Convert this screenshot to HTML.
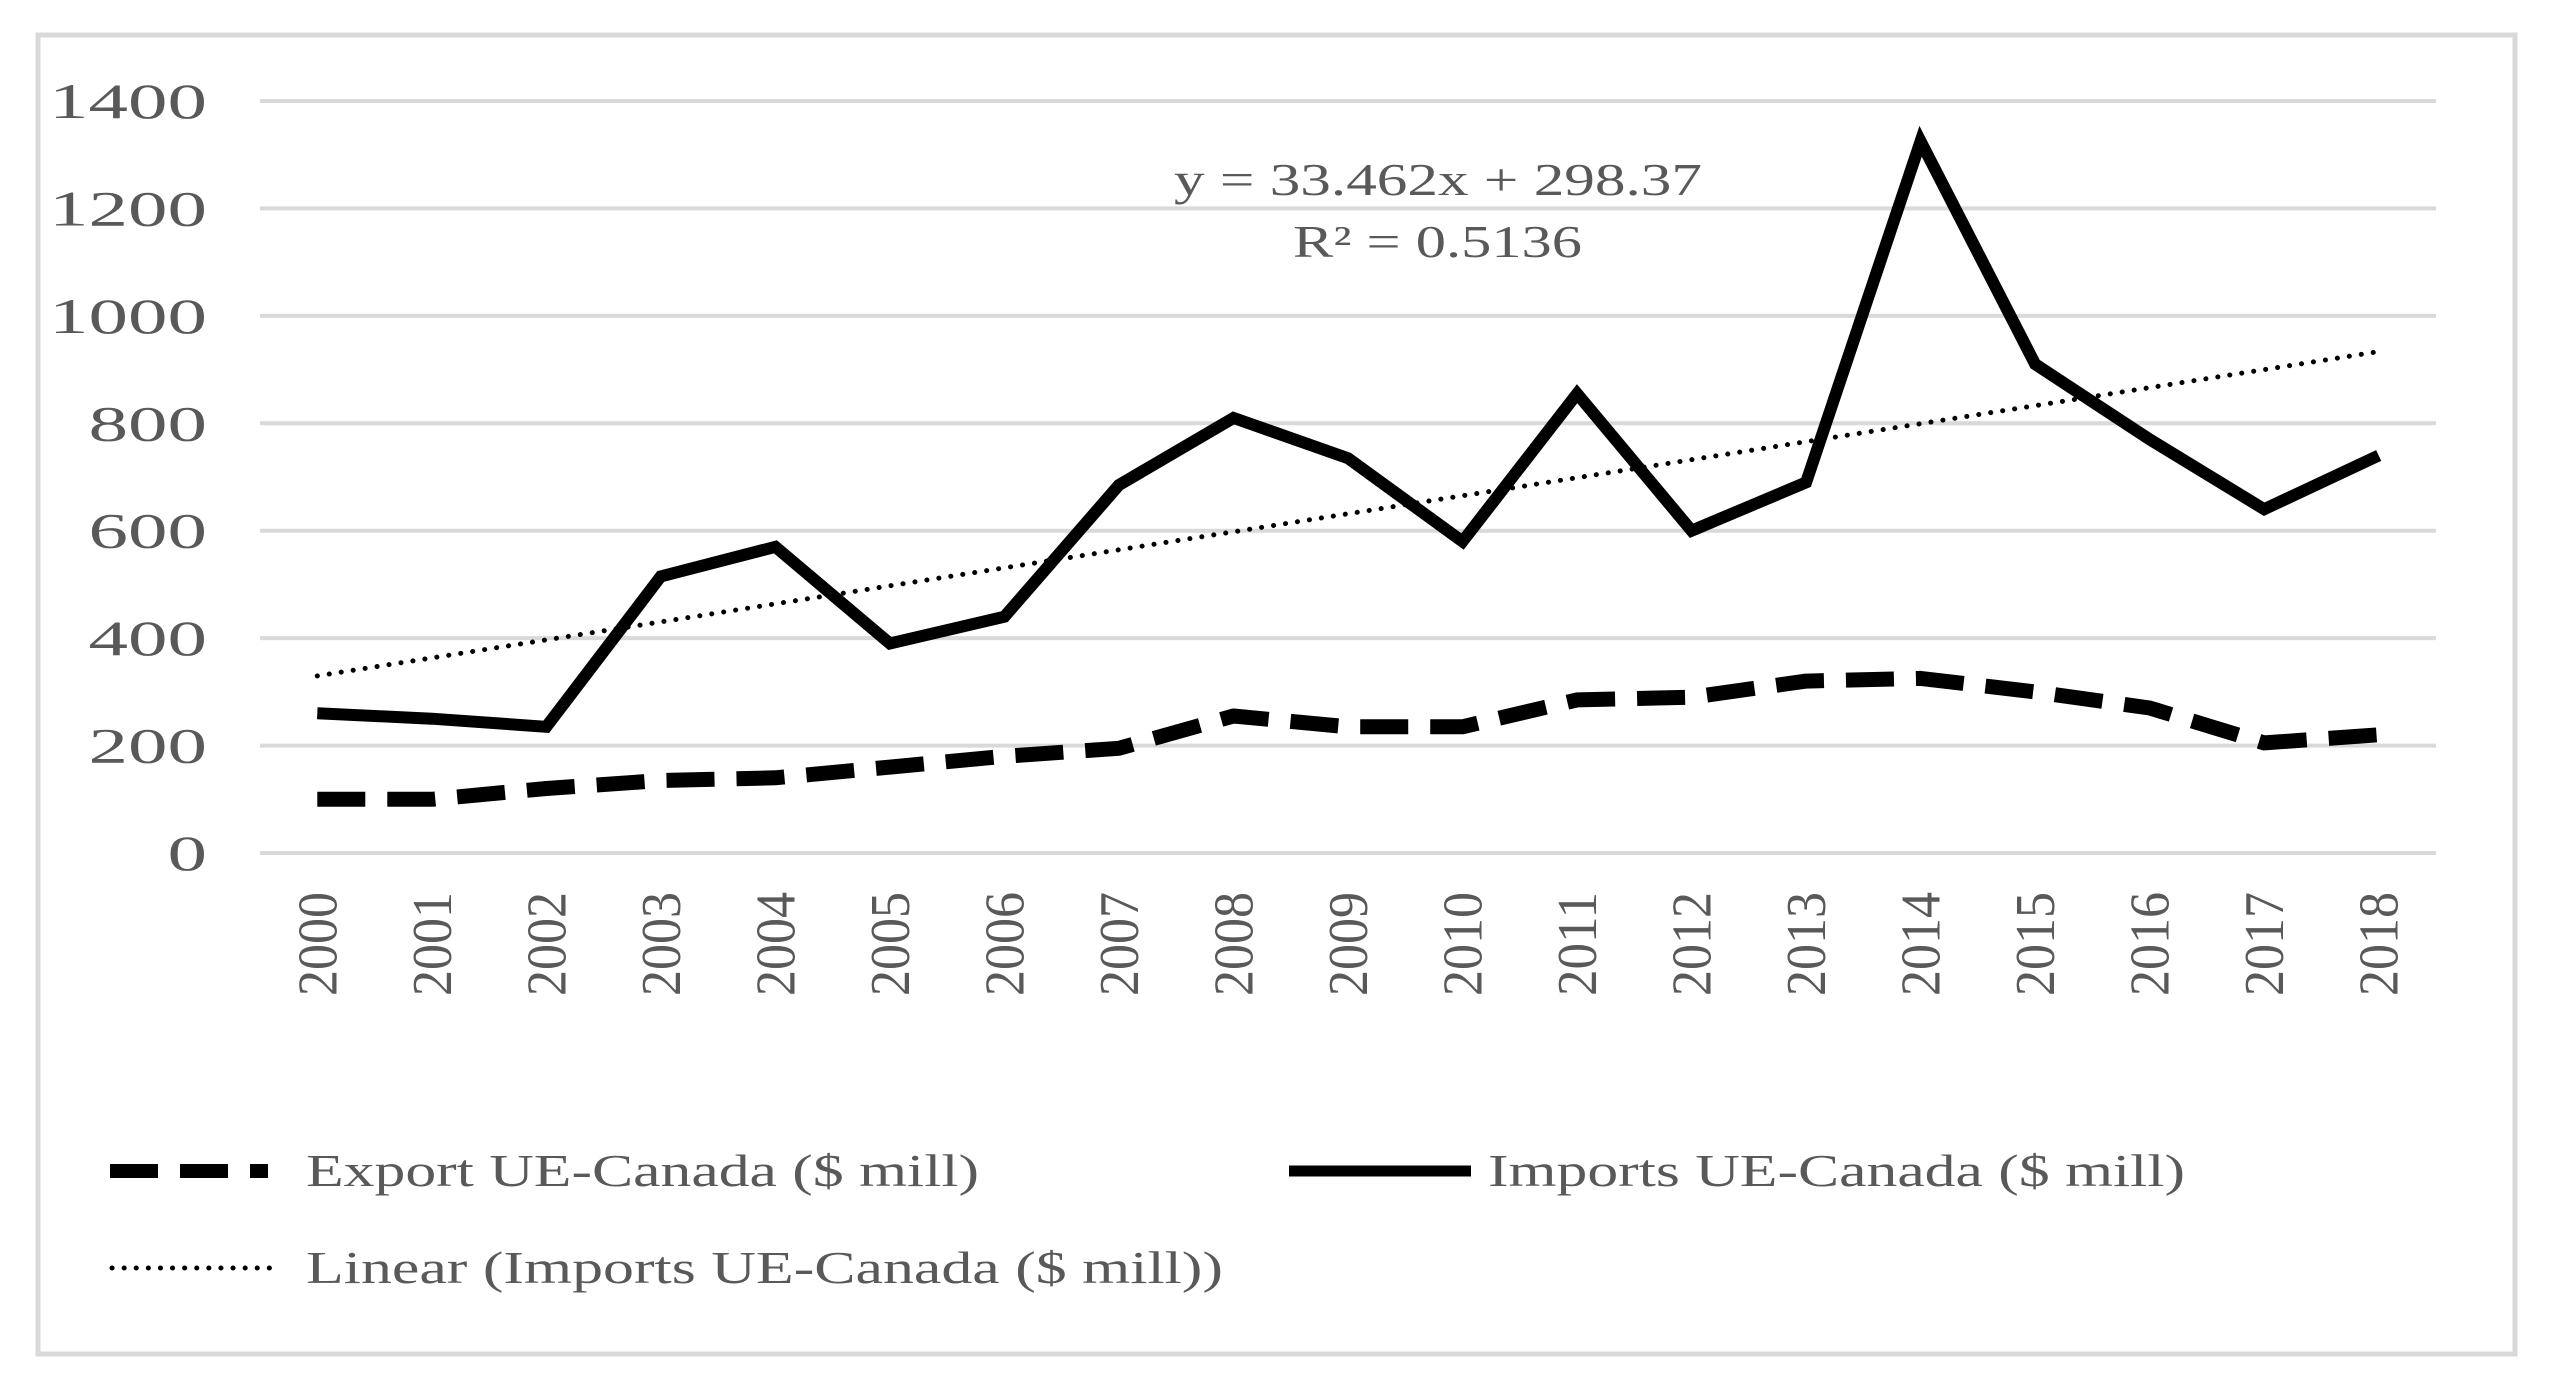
<!DOCTYPE html>
<html><head><meta charset="utf-8"><style>
html,body{margin:0;padding:0;background:#fff;}
svg{display:block;font-family:"Liberation Serif",serif;}
</style></head><body>
<svg id="chart" width="2549" height="1392" viewBox="0 0 2549 1392">
<rect x="38" y="35" width="2477" height="1319" fill="#fff" stroke="#d9d9d9" stroke-width="5"/>
<g id="grid"></g>
<g id="yt"></g>
<g id="xt"></g>
<g id="series"></g>
<text x="1174" y="195" font-size="46" fill="#595959" textLength="528" lengthAdjust="spacingAndGlyphs">y = 33.462x + 298.37</text>
<text x="1293" y="257" font-size="46" fill="#595959" textLength="289" lengthAdjust="spacingAndGlyphs">R² = 0.5136</text>
<g>
<g>
<line x1="110" y1="1171" x2="268" y2="1171" stroke="#000" stroke-width="14" stroke-dasharray="48,22"/>
<text x="306" y="1186" font-size="46" fill="#595959" textLength="673" lengthAdjust="spacingAndGlyphs">Export UE-Canada ($ mill)</text></g>
<g>
<line x1="1289" y1="1171" x2="1471" y2="1171" stroke="#000" stroke-width="11"/>
<text x="1488" y="1186" font-size="46" fill="#595959" textLength="697" lengthAdjust="spacingAndGlyphs">Imports UE-Canada ($ mill)</text></g>
<g>
<line x1="112" y1="1268" x2="278" y2="1268" stroke="#000" stroke-width="5" stroke-linecap="round" stroke-dasharray="0.1,12"/>
<text x="306" y="1283" font-size="46" fill="#595959" textLength="917" lengthAdjust="spacingAndGlyphs">Linear (Imports UE-Canada ($ mill))</text></g>
</g>
</svg>
<script>
const years=["2000","2001","2002","2003","2004","2005","2006","2007","2008","2009","2010","2011","2012","2013","2014","2015","2016","2017","2018"];
const imports=[260,250,235,515,570,390,440,685,810,735,580,855,600,690,1325,910,770,640,740];
const exports_=[100,100,120,135,140,160,180,195,255,235,235,285,290,320,325,300,270,205,220];
const yTicks=[0,200,400,600,800,1000,1200,1400];
const NS="http://www.w3.org/2000/svg";
const L=260,R=2436,T=101,B=853,YMAX=1400;
const bw=(R-L)/years.length;
const xs=i=>L+bw*(i+0.5);
const ys=v=>B-(v/YMAX)*(B-T);
function mk(t,a,p){const e=document.createElementNS(NS,t);for(const k in a)e.setAttribute(k,a[k]);p.appendChild(e);return e;}
const grid=document.getElementById('grid'),yt=document.getElementById('yt'),xt=document.getElementById('xt'),ser=document.getElementById('series');
yTicks.forEach(v=>{
 const l=mk('line',{x1:L,x2:R,y1:ys(v),y2:ys(v),stroke:'#d9d9d9','stroke-width':4},grid);
 
 
 const s=String(v);
 const t=mk('text',{x:207,y:ys(v)+17,'font-size':50,fill:'#595959','text-anchor':'end',textLength:s.length*39.5,lengthAdjust:'spacingAndGlyphs'},yt);
 t.textContent=s;
 
 
});
years.forEach((y,i)=>{
 const x=xs(i)+19;
 const t=mk('text',{x:x,y:892,'font-size':56,fill:'#595959','text-anchor':'end',textLength:104,lengthAdjust:'spacingAndGlyphs',transform:`rotate(-90 ${x} 892)`},xt);
 t.textContent=y;
 
 
});
const n=imports.length;let sx=0,sy=0,sxx=0,sxy=0;
imports.forEach((v,i)=>{const x=i+1;sx+=x;sy+=v;sxx+=x*x;sxy+=x*v;});
const slope=(n*sxy-sx*sy)/(n*sxx-sx*sx),icp=(sy-slope*sx)/n;
const tr=mk('line',{x1:xs(0),y1:ys(slope*1+icp),x2:xs(n-1),y2:ys(slope*n+icp),stroke:'#000','stroke-width':5,'stroke-linecap':'round','stroke-dasharray':'0.1,12'},ser);


const pts=a=>a.map((v,i)=>xs(i).toFixed(1)+','+ys(v).toFixed(1)).join(' ');
const ex=mk('polyline',{points:pts(exports_),fill:'none',stroke:'#000','stroke-width':15,'stroke-dasharray':'48,22','stroke-linejoin':'round'},ser);


const im=mk('polyline',{points:pts(imports),fill:'none',stroke:'#000','stroke-width':12,'stroke-linejoin':'miter'},ser);


</script>
</body></html>
